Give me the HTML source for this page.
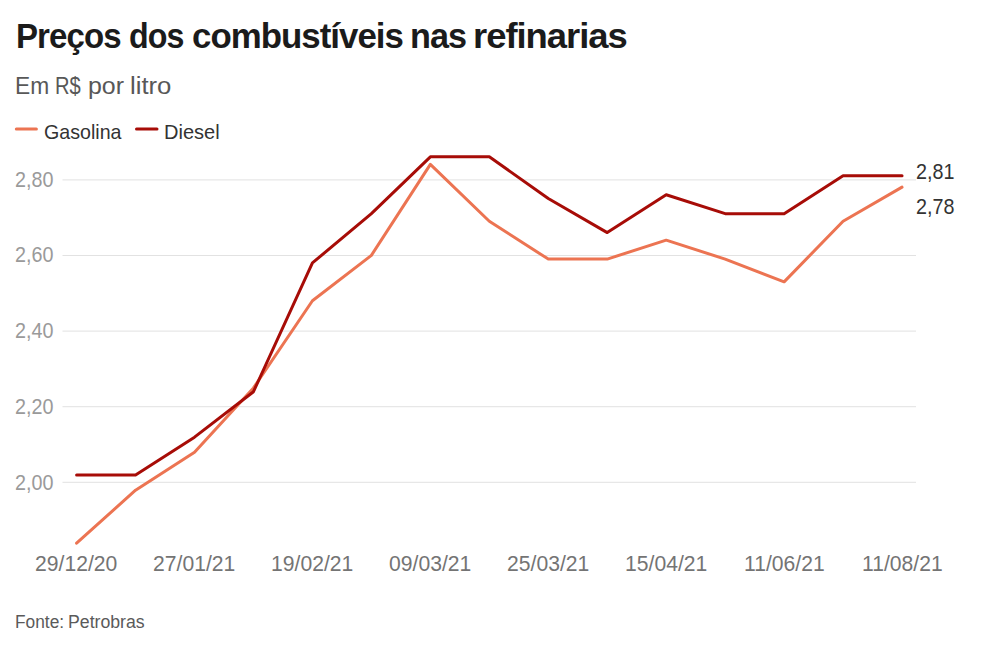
<!DOCTYPE html>
<html lang="pt">
<head>
<meta charset="utf-8">
<style>
html,body{margin:0;padding:0;background:#fff;}
body{width:984px;height:649px;overflow:hidden;position:relative;font-family:"Liberation Sans",sans-serif;}
.t{position:absolute;white-space:nowrap;line-height:1;transform-origin:0 0;}
svg{position:absolute;left:0;top:0;}
</style>
</head>
<body>
<svg width="984" height="649" viewBox="0 0 984 649">
<g fill="#e2e2e2"><rect x="62.5" y="179.40" width="853.5" height="1"/><rect x="62.5" y="255.00" width="853.5" height="1"/><rect x="62.5" y="330.60" width="853.5" height="1"/><rect x="62.5" y="406.20" width="853.5" height="1"/><rect x="62.5" y="481.80" width="853.5" height="1"/></g>
<g fill="none" stroke-width="3" stroke-linecap="round" stroke-linejoin="round">
<path stroke="#ec7452" d="M76.60,543.21 L135.56,490.18 L194.52,452.30 L253.48,387.90 L312.44,300.78 L371.40,255.32 L430.36,164.41 L489.32,221.23 L548.28,259.11 L607.24,259.11 L666.20,240.17 L725.16,259.11 L784.12,281.84 L843.08,221.23 L902.04,187.14"/>
<path stroke="#a70c07" d="M76.60,475.02 L135.56,475.02 L194.52,437.14 L253.48,391.69 L312.44,262.90 L371.40,213.65 L430.36,156.83 L489.32,156.83 L548.28,198.50 L607.24,232.59 L666.20,194.71 L725.16,213.65 L784.12,213.65 L843.08,175.77 L902.04,175.77"/>
</g>
<line x1="16.3" y1="129.1" x2="36.4" y2="129.1" stroke="#ec7452" stroke-width="3" stroke-linecap="round"/>
<line x1="136.5" y1="129.0" x2="157" y2="129.0" stroke="#a70c07" stroke-width="3" stroke-linecap="round"/>
</svg>
<div class="t" style="left:15.74px;top:19.20px;font-size:35.5px;font-weight:bold;color:#1b1b1b;letter-spacing:-1px;transform:scaleX(0.9309)">Preços</div>
<div class="t" style="left:129.09px;top:19.20px;font-size:35.5px;font-weight:bold;color:#1b1b1b;letter-spacing:-1px;transform:scaleX(0.9068)">dos</div>
<div class="t" style="left:192.02px;top:19.20px;font-size:35.5px;font-weight:bold;color:#1b1b1b;letter-spacing:-1px;transform:scaleX(0.9813)">combustíveis</div>
<div class="t" style="left:409.57px;top:19.20px;font-size:35.5px;font-weight:bold;color:#1b1b1b;letter-spacing:-1px;transform:scaleX(0.9643)">nas</div>
<div class="t" style="left:473.15px;top:19.20px;font-size:35.5px;font-weight:bold;color:#1b1b1b;letter-spacing:-1px;transform:scaleX(1.0259)">refinarias</div>
<div class="t" style="left:14.62px;top:74.80px;font-size:23px;font-weight:normal;color:#585858;transform:scaleX(0.9903)">Em</div>
<div class="t" style="left:54.85px;top:74.80px;font-size:23px;font-weight:normal;color:#585858;transform:scaleX(0.8741)">R$</div>
<div class="t" style="left:87.82px;top:74.80px;font-size:23px;font-weight:normal;color:#585858;transform:scaleX(1.0844)">por</div>
<div class="t" style="left:129.98px;top:74.80px;font-size:23px;font-weight:normal;color:#585858;transform:scaleX(1.1171)">litro</div>
<div class="t" style="left:44.46px;top:121.20px;font-size:21px;font-weight:normal;color:#333;transform:scaleX(0.9354)">Gasolina</div>
<div class="t" style="left:164.49px;top:121.20px;font-size:21px;font-weight:normal;color:#333;transform:scaleX(0.9545)">Diesel</div>
<div class="t" style="left:14.88px;top:169.78px;font-size:21.5px;font-weight:normal;color:#9a9a9a;transform:scaleX(0.9175)">2,80</div>
<div class="t" style="left:14.88px;top:245.46px;font-size:21.5px;font-weight:normal;color:#9a9a9a;transform:scaleX(0.9175)">2,60</div>
<div class="t" style="left:14.88px;top:321.14px;font-size:21.5px;font-weight:normal;color:#9a9a9a;transform:scaleX(0.9175)">2,40</div>
<div class="t" style="left:14.88px;top:396.82px;font-size:21.5px;font-weight:normal;color:#9a9a9a;transform:scaleX(0.9175)">2,20</div>
<div class="t" style="left:14.88px;top:472.50px;font-size:21.5px;font-weight:normal;color:#9a9a9a;transform:scaleX(0.9175)">2,00</div>
<div class="t" style="left:35.46px;top:554.40px;font-size:21.5px;font-weight:normal;color:#747474;transform:scaleX(0.9829)">29/12/20</div>
<div class="t" style="left:153.38px;top:554.40px;font-size:21.5px;font-weight:normal;color:#747474;transform:scaleX(0.9829)">27/01/21</div>
<div class="t" style="left:271.30px;top:554.40px;font-size:21.5px;font-weight:normal;color:#747474;transform:scaleX(0.9829)">19/02/21</div>
<div class="t" style="left:389.22px;top:554.40px;font-size:21.5px;font-weight:normal;color:#747474;transform:scaleX(0.9829)">09/03/21</div>
<div class="t" style="left:507.14px;top:554.40px;font-size:21.5px;font-weight:normal;color:#747474;transform:scaleX(0.9829)">25/03/21</div>
<div class="t" style="left:625.06px;top:554.40px;font-size:21.5px;font-weight:normal;color:#747474;transform:scaleX(0.9829)">15/04/21</div>
<div class="t" style="left:743.77px;top:554.40px;font-size:21.5px;font-weight:normal;color:#747474;transform:scaleX(0.9829)">11/06/21</div>
<div class="t" style="left:861.69px;top:554.40px;font-size:21.5px;font-weight:normal;color:#747474;transform:scaleX(0.9829)">11/08/21</div>
<div class="t" style="left:916.28px;top:162.10px;font-size:21.5px;font-weight:normal;color:#333;transform:scaleX(0.9175)">2,81</div>
<div class="t" style="left:916.28px;top:197.10px;font-size:21.5px;font-weight:normal;color:#333;transform:scaleX(0.9175)">2,78</div>
<div class="t" style="left:15.01px;top:614.20px;font-size:17.5px;font-weight:normal;color:#5a5a5a;transform:scaleX(0.9894)">Fonte:</div>
<div class="t" style="left:68.09px;top:614.20px;font-size:17.5px;font-weight:normal;color:#5a5a5a;transform:scaleX(1.0108)">Petrobras</div>
</body>
</html>
